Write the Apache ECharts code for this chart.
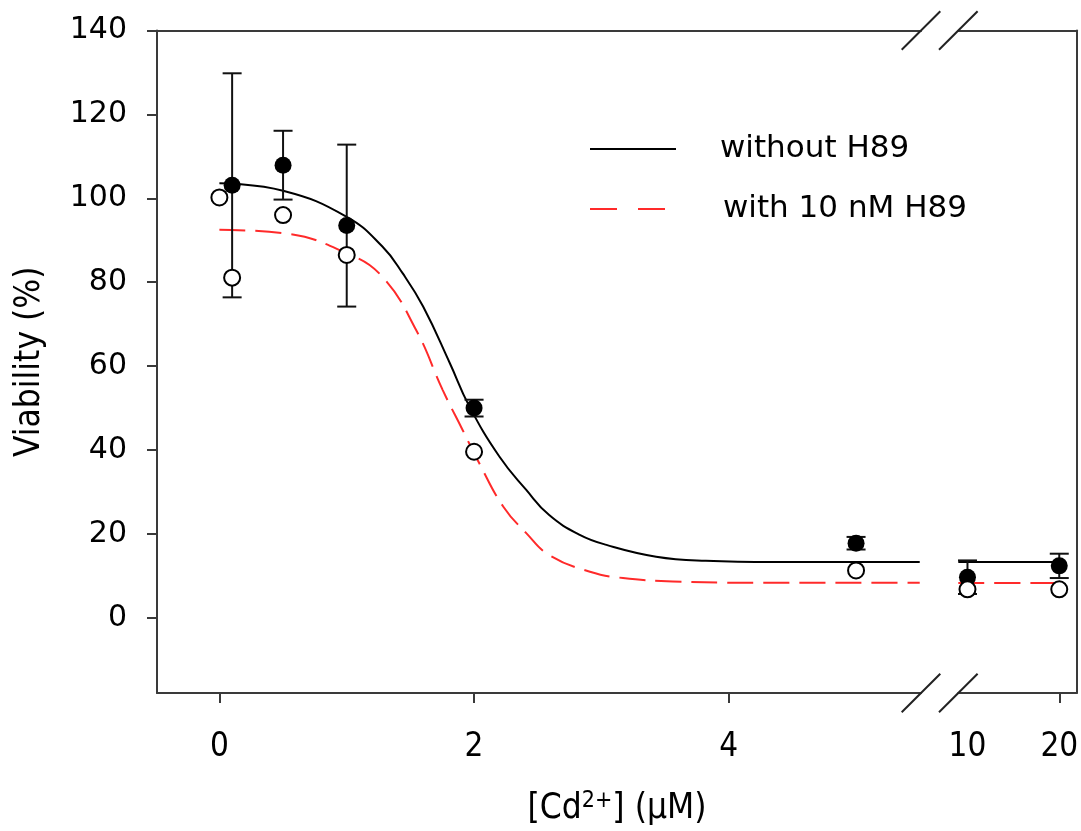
<!DOCTYPE html>
<html>
<head>
<meta charset="utf-8">
<script src="https://cdn.jsdelivr.net/npm/echarts@6/dist/echarts.min.js"></script>
<style>html,body{margin:0;padding:0;background:#fff;}#c{width:1081px;height:831px;}</style>
</head>
<body>
<div id="c"></div>
<script>
// ---- data ----
const concWithout = [0.1, 0.5, 1, 2, 5, 10, 20];
const meanWithout = [103.1, 107.9, 93.5, 50.0, 17.8, 9.7, 12.4];
const errWithout  = [26.7, 8.2, 19.3, 2.0, 1.5, 4.0, 2.9];
const concWith = [0, 0.1, 0.5, 1, 2, 5, 10, 20];
const meanWith = [100.2, 81.1, 96.0, 86.5, 39.6, 11.3, 6.8, 6.8];
// fitted curves
const fitWithoutX = [0, 0.5, 1.0, 1.28, 1.44, 1.6, 1.81, 1.96, 2.2, 2.41, 2.59, 2.83, 3.04, 3.43, 3.82, 4.35, 5.5, 9.0, 20];
const fitWithoutY = [103.6, 101.8, 95.6, 88.5, 82.1, 74.2, 60.7, 50.6, 38.4, 30.5, 24.5, 19.8, 17.4, 14.6, 13.6, 13.3, 13.3, 13.3, 13.3];
const fitWithX = [0, 0.5, 1.0, 1.28, 1.545, 1.754, 1.91, 2.04, 2.23, 2.41, 2.59, 2.91, 3.17, 3.56, 4.08, 5.5, 9.0, 20];
const fitWithY = [92.5, 91.7, 86.9, 81.3, 68.6, 54.3, 44.8, 36.9, 26.5, 20.2, 15.0, 11.0, 9.5, 8.7, 8.4, 8.4, 8.3, 8.3];
const yTicks = [0, 20, 40, 60, 80, 100, 120, 140];
const xTicksLeft = [0, 2, 4];
const xLabelsRight = [10, 20];
const xTicksRight = [20];
const seriesNames = ['without H89', 'with 10 nM H89'];

// ---- layout ----
const Y_MIN = -17.9, Y_MAX = 140;
const L_MIN = -0.49, L_MAX = 5.51, R_MIN = 9.0, R_MAX = 21.9, BREAK = 7;
const gridTop = 30.5, gridBottomY = 693;
const g1Left = 157, g1Right = 921, g2Left = 958.3, g2Right = 1076.7;
const axisColor = '#3a3a3a';
const narrow = '"DejaVu Sans Condensed", "Liberation Sans", sans-serif';
const wide = '"DejaVu Sans", "Liberation Sans", sans-serif';

function seg(xs, ys, left) {
  const out = [];
  xs.forEach((x, i) => { if (left ? x < BREAK : x > BREAK) out.push([x, ys[i]]); });
  return out;
}
function pts(xs, ys, left, extra) {
  const out = [];
  xs.forEach((x, i) => { if (left ? x < BREAK : x > BREAK) out.push(extra ? [x, ys[i], extra[i]] : [x, ys[i]]); });
  return out;
}

const errRender = function (params, api) {
  const x = api.value(0), y = api.value(1), e = api.value(2);
  const t = api.coord([x, y + e]), b = api.coord([x, y - e]);
  const hw = 9.5;
  const st = { stroke: '#111', lineWidth: 2 };
  return { type: 'group', children: [
    { type: 'line', shape: { x1: t[0], y1: t[1], x2: b[0], y2: b[1] }, style: st },
    { type: 'line', shape: { x1: t[0] - hw, y1: t[1], x2: t[0] + hw, y2: t[1] }, style: st },
    { type: 'line', shape: { x1: b[0] - hw, y1: b[1], x2: b[0] + hw, y2: b[1] }, style: st }
  ]};
};

const series = [];
[true, false].forEach((left, gi) => {
  series.push({ type: 'line', name: seriesNames[0], xAxisIndex: gi * 2, yAxisIndex: gi, data: seg(fitWithoutX, fitWithoutY, left), smooth: 0.45, symbol: 'none', lineStyle: { color: '#000', width: 2 }, z: 2, silent: true, clip: true });
  series.push({ type: 'line', name: seriesNames[1], xAxisIndex: gi * 2, yAxisIndex: gi, data: seg(fitWithX, fitWithY, left), smooth: 0.45, symbol: 'none', lineStyle: { color: '#ff2a2a', width: 2, type: [26, 10] }, z: 2, silent: true, clip: true });
  series.push({ type: 'custom', xAxisIndex: gi * 2, yAxisIndex: gi, renderItem: errRender, data: pts(concWithout, meanWithout, left, errWithout), z: 3, silent: true });
  series.push({ type: 'scatter', xAxisIndex: gi * 2, yAxisIndex: gi, data: pts(concWithout, meanWithout, left), symbol: 'circle', symbolSize: 17, itemStyle: { color: '#000', opacity: 1 }, z: 4 });
  series.push({ type: 'scatter', xAxisIndex: gi * 2, yAxisIndex: gi, data: pts(concWith, meanWith, left), symbol: 'circle', symbolSize: 16, itemStyle: { color: '#fff', borderColor: '#000', borderWidth: 2, opacity: 1 }, z: 5 });
});

const lineSt = { show: true, onZero: false, lineStyle: { color: axisColor, width: 2 } };
const tickSt = (vals) => ({ show: true, inside: false, length: 10, customValues: vals, lineStyle: { color: axisColor, width: 2 } });

const option = {
  animation: false,
  backgroundColor: '#fff',
  grid: [
    { left: g1Left, top: gridTop, width: g1Right - g1Left, height: gridBottomY - gridTop, containLabel: false, outerBoundsMode: 'none' },
    { left: g2Left, top: gridTop, width: g2Right - g2Left, height: gridBottomY - gridTop, containLabel: false, outerBoundsMode: 'none' }
  ],
  xAxis: [
    { type: 'value', gridIndex: 0, min: L_MIN, max: L_MAX, position: 'bottom', axisLine: lineSt, splitLine: { show: false },
      axisTick: tickSt(xTicksLeft), axisLabel: { customValues: xTicksLeft, margin: 38, fontSize: 33, fontFamily: narrow, color: '#000' } },
    { type: 'value', gridIndex: 0, min: L_MIN, max: L_MAX, position: 'top', axisLine: lineSt, axisTick: { show: false }, axisLabel: { show: false }, splitLine: { show: false } },
    { type: 'value', gridIndex: 1, min: R_MIN, max: R_MAX, position: 'bottom', axisLine: lineSt, splitLine: { show: false },
      axisTick: tickSt(xTicksRight), axisLabel: { customValues: xLabelsRight, margin: 38, fontSize: 33, fontFamily: narrow, color: '#000' } },
    { type: 'value', gridIndex: 1, min: R_MIN, max: R_MAX, position: 'top', axisLine: lineSt, axisTick: { show: false }, axisLabel: { show: false }, splitLine: { show: false } }
  ],
  yAxis: [
    { type: 'value', gridIndex: 0, min: Y_MIN, max: Y_MAX, position: 'left', axisLine: lineSt, splitLine: { show: false },
      axisTick: tickSt(yTicks), axisLabel: { customValues: yTicks, margin: 30, fontSize: 30, fontFamily: wide, color: '#000' },
      name: 'Viability (%)', nameLocation: 'middle', nameGap: 110, nameRotate: 90, nameTextStyle: { fontSize: 35, fontFamily: narrow, color: '#000' } },
    { type: 'value', gridIndex: 1, min: Y_MIN, max: Y_MAX, position: 'right', axisLine: lineSt, axisTick: { show: false }, axisLabel: { show: false }, splitLine: { show: false } }
  ],
  series: series,
  graphic: [
    // axis break marks
    { type: 'line', shape: { x1: 901.7, y1: 712.3, x2: 940.3, y2: 673.7 }, style: { stroke: '#222', lineWidth: 2 }, z: 10 },
    { type: 'line', shape: { x1: 939.0, y1: 712.3, x2: 977.6, y2: 673.7 }, style: { stroke: '#222', lineWidth: 2 }, z: 10 },
    { type: 'line', shape: { x1: 901.7, y1: 49.8, x2: 940.3, y2: 11.2 }, style: { stroke: '#222', lineWidth: 2 }, z: 10 },
    { type: 'line', shape: { x1: 939.0, y1: 49.8, x2: 977.6, y2: 11.2 }, style: { stroke: '#222', lineWidth: 2 }, z: 10 },
    // legend
    { type: 'line', shape: { x1: 590, y1: 149, x2: 676, y2: 149 }, style: { stroke: '#000', lineWidth: 2 } },
    { type: 'line', shape: { x1: 590, y1: 209, x2: 617, y2: 209 }, style: { stroke: '#ff2a2a', lineWidth: 2 } },
    { type: 'line', shape: { x1: 638, y1: 209, x2: 665, y2: 209 }, style: { stroke: '#ff2a2a', lineWidth: 2 } },
    { type: 'text', x: 720, y: 149, style: { text: seriesNames[0], fontSize: 31, fontFamily: wide, fill: '#000', verticalAlign: 'middle' } },
    { type: 'text', x: 723, y: 209, style: { text: seriesNames[1], fontSize: 31, fontFamily: wide, fill: '#000', verticalAlign: 'middle' } },
    // x-axis title with superscript
    { type: 'text', x: 617, y: 808, style: {
        text: '{n|[Cd}{s|2+}{n|] (µM)}', align: 'center', verticalAlign: 'middle',
        rich: { n: { fontSize: 35, fontFamily: narrow, color: '#000', verticalAlign: 'bottom' }, s: { fontSize: 23, fontFamily: narrow, color: '#000', verticalAlign: 'top', padding: [0, 0, 14, 0] } } } }
  ]
};
const chart = echarts.init(document.getElementById('c'), null, { renderer: 'canvas' });
chart.setOption(option);
</script>
</body>
</html>
